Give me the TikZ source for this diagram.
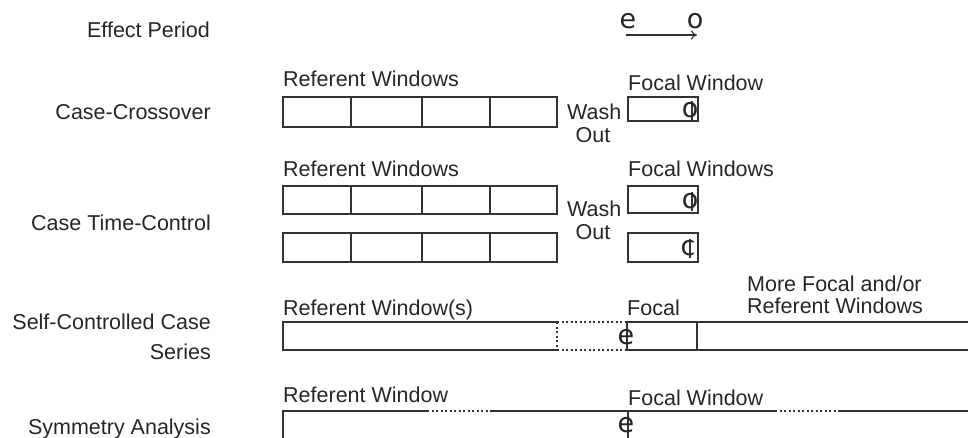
\documentclass[tikz,border=0pt]{standalone}
\usepackage{fontspec}
\setmainfont{Liberation Sans}
\newfontfamily\markfont{DejaVu Sans}
\usetikzlibrary{arrows.meta}
\begin{document}
\begin{tikzpicture}[x=1pt,y=-1pt,
  lbl/.style={inner sep=0pt, font=\fontsize{21.5}{26}\selectfont, text=black!85},
  mk/.style={inner sep=0pt, font=\markfont\fontsize{27}{27}\selectfont, text=black!85},
  ln/.style={line width=1.1pt, draw=black!80},
  dl/.style={ln, dash pattern=on 2pt off 2.5pt}]
\useasboundingbox (0,0) rectangle (968,438);

% row labels
\node[lbl, anchor=base east] (rEP) at (210,38) {Effect Period};
\node[lbl, anchor=base east] (rCC) at (211,120) {Case-Crossover};
\node[lbl, anchor=base east] (rCTC) at (211,231) {Case Time-Control};
\node[lbl, anchor=base east] (rSC1) at (211,329) {Self-Controlled Case};
\node[lbl, anchor=base east] (rSC2) at (211,359) {Series};
\node[lbl, anchor=base east] (rSA) at (211,434) {Symmetry Analysis};

% effect period
\node[mk] (e0) at (628,21) {e};
\node[mk] (o0) at (695,21) {o};
\coordinate (a0) at (626,35);
\coordinate (a1) at (697,35);
\draw[ln, -{To[length=6pt,width=9pt]}] (a0) -- (a1);

% case-crossover
\node[lbl, anchor=base west] (ccR) at (283,87) {Referent Windows};
\node[lbl, anchor=base west] (ccF) at (628,91) {Focal Window};
\draw[ln] (283,97) rectangle (557,127);
\foreach \x in {351,422,490} \draw[ln] (\x,97) -- (\x,127);
\node[lbl, anchor=base west] (ccW) at (567,120) {Wash};
\node[lbl, anchor=base] (ccO) at (593,143) {Out};
\draw[ln] (628,97) rectangle (698,121);
\draw[ln] (692,101) -- (692,120);
\node[mk] (o1) at (690,110) {o};

% case time-control
\node[lbl, anchor=base west] (ctR) at (283,177) {Referent Windows};
\node[lbl, anchor=base west] (ctF) at (628,177) {Focal Windows};
\draw[ln] (283,186) rectangle (557,214);
\foreach \x in {351,422,490} \draw[ln] (\x,186) -- (\x,214);
\draw[ln] (283,233) rectangle (557,262);
\foreach \x in {351,422,490} \draw[ln] (\x,233) -- (\x,262);
\node[lbl, anchor=base west] (ctW) at (567,217) {Wash};
\node[lbl, anchor=base] (ctO) at (593,240) {Out};
\draw[ln] (628,186) rectangle (698,213);
\draw[ln] (692,192) -- (692,211);
\node[mk] (o2) at (690,201) {o};
\draw[ln] (628,233) rectangle (698,262);
\draw[ln] (690,239) -- (690,258);
\node[mk] (c2) at (688,248) {c};

% self-controlled case series
\node[lbl, anchor=base west] (scR) at (283,315) {Referent Window(s)};
\node[lbl, anchor=base west] (scF) at (627,315) {Focal};
\node[lbl, anchor=base west] (scM1) at (747,291) {More Focal and/or};
\node[lbl, anchor=base west] (scM2) at (747,313) {Referent Windows};
\draw[ln] (557,322) -- (283,322) -- (283,350) -- (557,350);
\draw[dl] (557,322) -- (627,322);
\draw[dl] (557,350) -- (627,350);
\draw[dl] (557,322) -- (557,350);
\draw[ln] (968,322) -- (627,322) -- (627,350) -- (968,350);
\draw[ln] (697,322) -- (697,350);
\node[mk] (e3) at (626,337) {e};

% symmetry analysis
\node[lbl, anchor=base west] (saR) at (283,402) {Referent Window};
\node[lbl, anchor=base west] (saF) at (628,405) {Focal Window};
\draw[ln] (283,438) -- (283,411) -- (427,411);
\draw[dl] (427,411) -- (492,411);
\draw[ln] (492,411) -- (775,411);
\draw[dl] (775,411) -- (840,411);
\draw[ln] (840,411) -- (968,411);
\draw[ln] (628,411) -- (628,438);
\node[mk] (e4) at (626,425) {e};
\end{tikzpicture}
\end{document}
